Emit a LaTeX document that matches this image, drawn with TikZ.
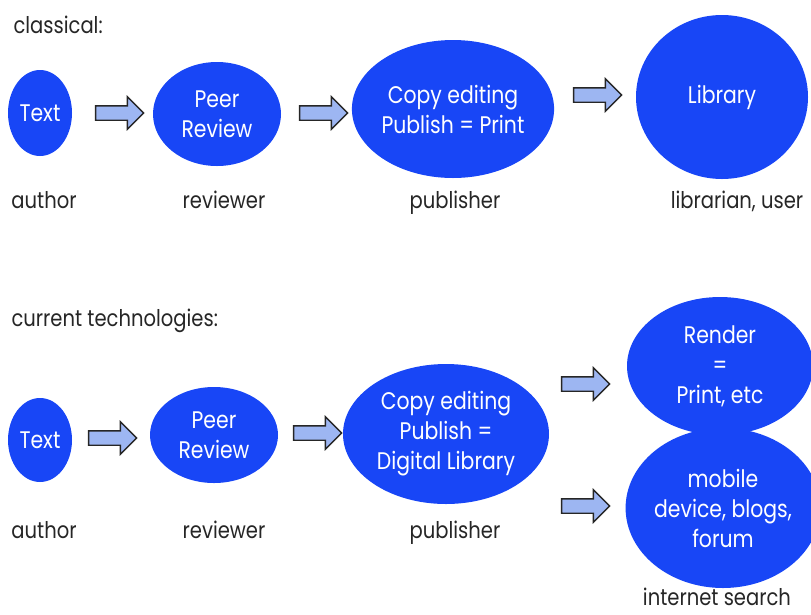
\documentclass[tikz,border=0pt]{standalone}
\usepackage{fontspec}
\setmainfont{Poppins}[FakeStretch=0.85]
\usetikzlibrary{shapes.geometric, shapes.arrows, positioning}
\definecolor{ellblue}{HTML}{1846F6}
\definecolor{arrowfill}{HTML}{9DB6F2}

\begin{document}
\begin{tikzpicture}[
    x=1pt, y=-1pt,
    bubble/.style={ellipse, fill=ellblue, inner sep=0pt, align=center, text=white, font=\fontsize{24}{30}\selectfont},
    role/.style={font=\fontsize{23}{28}\selectfont, text=black!85, anchor=base},
    fwd/.style={single arrow, draw=black!85, line width=1.4pt, fill=arrowfill, minimum height=48pt, text height=13pt, text depth=0pt, single arrow head extend=9pt, inner sep=0pt},
]
\useasboundingbox (0,0) rectangle (811,614);

% classical chain
\node[role, anchor=base west] (classical) at (10,33) {classical:};
\node[bubble, minimum width=64pt, minimum height=86pt] (text1) at (40,113) {Text};
\node[bubble, minimum width=128pt, minimum height=104pt] (peer1) at (217,114) {Peer\\Review};
\node[bubble, minimum width=200pt, minimum height=138pt] (copy1) at (453,109) {Copy editing\\Publish = Print};
\node[bubble, minimum width=172pt, minimum height=164pt] (library) at (722,97) {Library};
\node[fwd] (a1) at (116,113) {};
\node[fwd] (a2) at (320,113) {};
\node[fwd] (a3) at (594,95) {};
\node[role] (author1) at (44,208) {author};
\node[role] (reviewer1) at (224,208) {reviewer};
\node[role] (publisher1) at (455,208) {publisher};
\node[role] (user) at (737,208) {librarian, user};

% current technologies
\node[role, anchor=base west] (current) at (8,326) {current technologies:};
\node[bubble, minimum width=64pt, minimum height=84pt] (text2) at (40,440) {Text};
\node[bubble, minimum width=128pt, minimum height=96pt] (peer2) at (214,435) {Peer\\Review};
\node[bubble, minimum width=206pt, minimum height=140pt] (copy2) at (446,434) {Copy editing\\Publish =\\Digital Library};
\node[bubble, minimum width=186pt, minimum height=138pt] (render) at (720,366) {Render\\=\\Print, etc};
\node[bubble, minimum width=168pt, minimum height=160pt] (mobile) at (723,508) {mobile\\device, blogs,\\forum};
\node[fwd] (b1) at (109,438) {};
\node[fwd] (b2) at (314,433) {};
\node[fwd] (b3) at (582,384) {};
\node[fwd] (b4) at (582,506) {};
\node[role] (author2) at (44,538) {author};
\node[role] (reviewer2) at (224,538) {reviewer};
\node[role] (publisher2) at (455,538) {publisher};
\node[role] (search) at (717,605) {internet search};

\end{tikzpicture}
\end{document}
